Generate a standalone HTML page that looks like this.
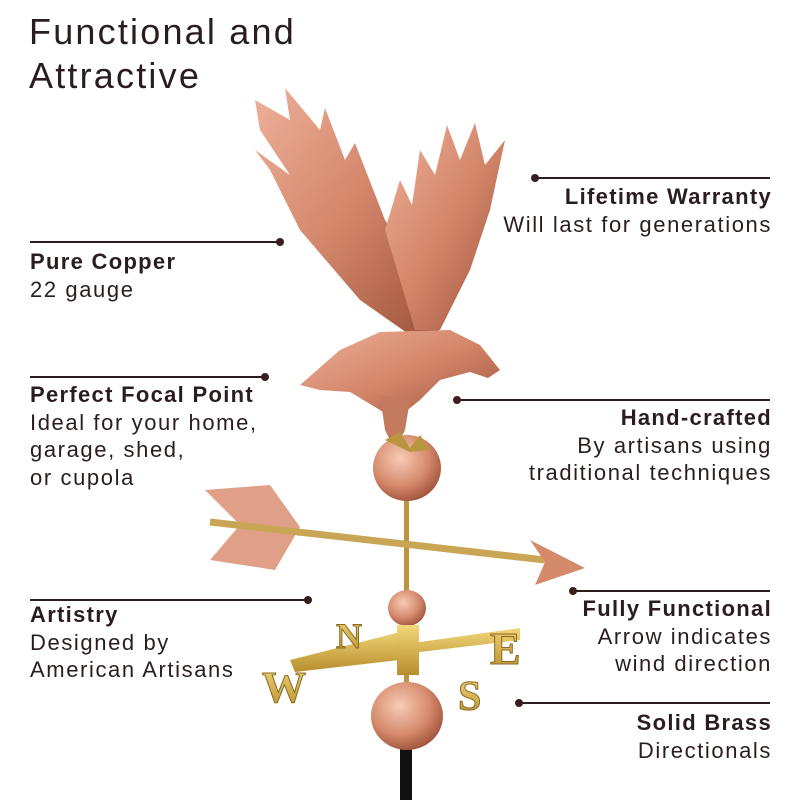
<!DOCTYPE html>
<html><head><meta charset="utf-8"><style>
body{margin:0;width:800px;height:800px;background:#fff;position:relative;overflow:hidden;font-family:"Liberation Sans",sans-serif;color:#2b1d1d}
.t{position:absolute;font-size:22px;line-height:27.5px;white-space:nowrap;letter-spacing:1.6px}
.b{font-weight:bold;letter-spacing:1.3px}
.r{text-align:right}
h1{position:absolute;left:29px;top:10px;margin:0;font-size:36px;line-height:44px;color:#2b1d1d;font-family:"Liberation Sans",sans-serif;font-weight:normal;letter-spacing:2.2px}
</style></head><body>
<svg width="800" height="800" style="position:absolute;left:0;top:0">
<defs>
<linearGradient id="cu" x1="0" y1="0" x2="1" y2="1"><stop offset="0" stop-color="#eeb09a"/><stop offset="0.5" stop-color="#d3866a"/><stop offset="1" stop-color="#9c523a"/></linearGradient>
<radialGradient id="sp" cx="0.4" cy="0.35" r="0.7"><stop offset="0" stop-color="#f7cbb5"/><stop offset="0.6" stop-color="#d58a6c"/><stop offset="1" stop-color="#9c5039"/></radialGradient>
<linearGradient id="au" x1="0" y1="0" x2="0" y2="1"><stop offset="0" stop-color="#f2d77a"/><stop offset="1" stop-color="#b88e2e"/></linearGradient>
</defs>
<g stroke="#2b1d1d" stroke-width="2">
<line x1="535" y1="178" x2="770" y2="178"/><line x1="30" y1="242" x2="280" y2="242"/>
<line x1="30" y1="377" x2="265" y2="377"/><line x1="457" y1="400" x2="770" y2="400"/>
<line x1="30" y1="600" x2="308" y2="600"/><line x1="573" y1="591" x2="770" y2="591"/>
<line x1="519" y1="703" x2="770" y2="703"/>
</g>
<g fill="#3a1d1d"><circle cx="535" cy="178" r="4"/><circle cx="280" cy="242" r="4"/><circle cx="265" cy="377" r="4"/><circle cx="457" cy="400" r="4"/><circle cx="308" cy="600" r="4"/><circle cx="573" cy="591" r="4"/><circle cx="519" cy="703" r="4"/></g>
<rect x="400" y="720" width="12" height="80" fill="#111"/>
<rect x="404" y="440" width="5" height="290" fill="#b8953e"/>
<path d="M255,100 L290,120 L285,88 L320,130 L325,108 L345,160 L355,143 L385,220 L430,290 L440,335 L410,335 L360,300 L300,230 L270,170 L255,150 L290,175 L260,130 Z" fill="url(#cu)"/>
<path d="M385,230 L400,180 L412,205 L420,150 L435,175 L447,125 L460,160 L475,123 L485,165 L505,140 L490,210 L470,270 L440,330 L415,330 Z" fill="url(#cu)"/>
<path d="M300,385 L340,350 L380,332 L450,330 L480,345 L500,370 L488,378 L470,372 L440,380 L420,400 L395,420 L380,410 L350,392 L320,390 Z" fill="url(#cu)"/>
<path d="M380,395 L410,400 L405,430 L395,450 L385,430 Z" fill="#c47a5e"/>
<ellipse cx="407" cy="468" rx="34" ry="33" fill="url(#sp)"/>
<path d="M385,440 L400,432 L410,448 L420,435 L430,450 L410,452 Z" fill="#b8953e"/>
<path d="M205,490 L270,485 L300,527 L275,570 L210,560 L240,525 Z" fill="#e0a088"/>
<line x1="210" y1="522" x2="545" y2="560" stroke="#c9a655" stroke-width="7"/>
<path d="M530,540 L585,568 L535,585 L545,562 Z" fill="#d58a6c"/>
<ellipse cx="407" cy="608" rx="19" ry="18" fill="url(#sp)"/>
<path d="M290,660 L400,632 L420,642 L520,628 L520,640 L420,652 L400,660 L295,672 Z" fill="url(#au)"/>
<rect x="397" y="625" width="22" height="50" fill="url(#au)"/>
<g fill="url(#au)" font-family="Liberation Serif,serif" font-weight="bold" stroke="#8a6a20" stroke-width="1">
<text x="262" y="702" font-size="44">W</text><text x="336" y="648" font-size="36">N</text>
<text x="490" y="664" font-size="46">E</text><text x="458" y="710" font-size="42">S</text></g>
<ellipse cx="407" cy="716" rx="36" ry="34" fill="url(#sp)"/>
</svg>
<h1>Functional and<br>Attractive</h1>
<div class="t r" style="right:28px;top:183px"><span class="b">Lifetime Warranty</span><br>Will last for generations</div>
<div class="t" style="left:30px;top:248px"><span class="b">Pure Copper</span><br>22 gauge</div>
<div class="t" style="left:30px;top:381px"><span class="b">Perfect Focal Point</span><br>Ideal for your home,<br>garage, shed,<br>or cupola</div>
<div class="t r" style="right:28px;top:404px"><span class="b">Hand-crafted</span><br>By artisans using<br>traditional techniques</div>
<div class="t" style="left:30px;top:601px"><span class="b">Artistry</span><br>Designed by<br>American Artisans</div>
<div class="t r" style="right:28px;top:595px"><span class="b">Fully Functional</span><br>Arrow indicates<br>wind direction</div>
<div class="t r" style="right:28px;top:709px"><span class="b">Solid Brass</span><br>Directionals</div>
</body></html>
